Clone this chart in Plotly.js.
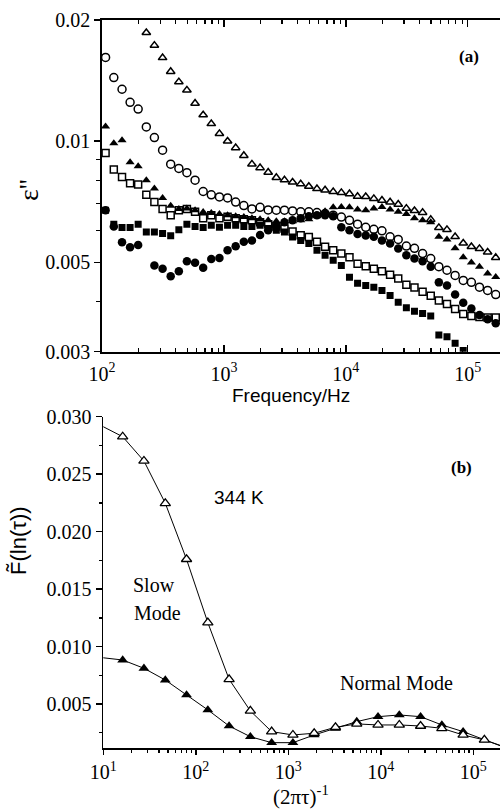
<!DOCTYPE html>
<html>
<head>
<meta charset="utf-8">
<script src="https://cdn.plot.ly/plotly-3.0.1.min.js"></script>
<style>
html,body{margin:0;padding:0;overflow:hidden;background:#fff;width:500px;height:809px;}
#chart{width:504px;height:809px;}
</style>
</head>
<body>
<div id="chart"></div>
<script>
// ---------- Panel (a): dielectric loss vs frequency ----------
const freqHz = [107, 125, 146, 170, 198, 231, 269, 314, 366, 427, 497, 580, 676, 788, 919,
  1072, 1249, 1457, 1698, 1980, 2308, 2692, 3139, 3659, 4266, 4974, 5799, 6761, 7884, 9192,
  10720, 12490, 14570, 16980, 19800, 23080, 26920, 31390, 36590, 42660, 49740, 57990, 67610,
  78840, 91920, 107200, 124900, 145700, 169800];

const epsOpenTri = [null, null, null, null, 0.0205, 0.0186, 0.0173, 0.01612, 0.01489, 0.01404,
  0.01339, 0.01242, 0.01162, 0.01105, 0.01044, 0.01000, 0.00963, 0.00921, 0.00877, 0.00859,
  0.00837, 0.00812, 0.00801, 0.00791, 0.00783, 0.00772, 0.00762, 0.00756, 0.00749, 0.00745,
  0.00740, 0.00729, 0.00728, 0.00720, 0.00713, 0.00706, 0.00697, 0.00681, 0.00672, 0.00665,
  0.00639, 0.00610, 0.00603, 0.00579, 0.00558, 0.00547, 0.00541, 0.00530, 0.00514];

const epsOpenCirc = [0.01615, 0.01439, 0.01346, 0.01249, 0.01202, 0.01085, 0.01021, 0.0095, 0.00877,
  0.00856, 0.00835, 0.00800, 0.00750, 0.00736, 0.00727, 0.00723, 0.00706, 0.00692, 0.00679,
  0.00685, 0.00675, 0.00674, 0.00674, 0.00671, 0.00668, 0.00668, 0.00665, 0.00661, 0.00655,
  0.00648, 0.00636, 0.00622, 0.00611, 0.00604, 0.00599, 0.00579, 0.00570, 0.00549, 0.00542,
  0.00526, 0.00511, 0.00488, 0.00478, 0.00464, 0.00451, 0.00446, 0.00434, 0.00426, 0.00416];

const epsFilledTri = [0.01088, 0.00988, 0.01006, 0.00887, 0.00867, 0.00800, 0.00763, 0.00723, 0.00691,
  0.00679, 0.00680, 0.00674, 0.00667, 0.00663, 0.00659, 0.00655, 0.00651, 0.00648, 0.00644,
  0.00640, 0.00636, 0.00633, 0.00633, 0.00633, 0.00636, 0.00640, 0.00651, 0.00670, 0.00685,
  0.00686, 0.00685, 0.00677, 0.00674, 0.00680, 0.00686, 0.00677, 0.00668, 0.00659, 0.00644,
  0.00636, 0.00629, 0.00579, 0.00570, 0.00542, 0.00515, 0.00500, 0.00488, 0.00469, 0.00460];

const epsOpenSq = [0.00935, 0.00851, 0.00815, 0.00786, 0.00781, 0.00736, 0.00706, 0.00679, 0.00655,
  0.00674, 0.00679, 0.00668, 0.00644, 0.00655, 0.00644, 0.00649, 0.00644, 0.00640, 0.00636,
  0.00629, 0.00622, 0.00614, 0.00607, 0.00597, 0.00584, 0.00578, 0.00563, 0.00547, 0.00536,
  0.00526, 0.00515, 0.00496, 0.00489, 0.00482, 0.00475, 0.00466, 0.00456, 0.00440, 0.00433,
  0.00423, 0.00413, 0.00402, 0.00394, 0.00383, 0.00372, 0.00368, 0.00366, 0.00365, 0.00365];

const epsFilledCirc = [0.00674, 0.00614, 0.00561, 0.00545, 0.00552, null, 0.00491, 0.00482, 0.00462,
  0.00475, 0.00503, 0.00499, 0.00485, 0.00510, 0.00513, 0.00536, 0.00548, 0.00563, 0.00567,
  0.00585, 0.00601, 0.00614, 0.00629, 0.00636, 0.00644, 0.00651, 0.00655, 0.00655, 0.00651,
  0.00611, 0.00601, 0.00588, 0.00583, 0.00579, 0.00567, 0.00557, 0.00541, 0.00521, 0.00511,
  0.00503, 0.00488, 0.00446, 0.00438, 0.00416, 0.00397, 0.00384, 0.00370, 0.00361, 0.00353];

const epsFilledSq = [0.00674, 0.00622, 0.00610, 0.00610, 0.00622, 0.00595, 0.00595, 0.00590, 0.00582,
  0.00603, 0.00622, 0.00614, 0.00610, 0.00618, 0.00611, 0.00618, 0.00618, 0.00614, 0.00614,
  0.00618, 0.00607, 0.00601, 0.00595, 0.00578, 0.00567, 0.00557, 0.00536, 0.00521, 0.00506,
  0.00491, 0.00459, 0.00444, 0.00438, 0.00434, 0.00426, 0.00414, 0.00398, 0.00386, 0.00378,
  0.00373, 0.00368, 0.00330, 0.00327, 0.00315, 0.00302, null, null, null, null];

// ---------- Panel (b): relaxation time distribution at 344 K ----------
const invTwoPiTau = [9.55, 16.2, 27.5, 46.8, 79.4, 134.9, 229.1, 389.0, 660.7, 1122, 1905, 3236,
  5495, 9333, 15850, 26920, 45710, 77620, 131800, 223900];
const distOpen = [0.02921, 0.02826, 0.02615, 0.02247, 0.01760, 0.01209, 0.00716, 0.00441, 0.00261,
  0.00232, 0.00247, 0.00299, 0.00328, 0.00319, 0.00319, 0.00310, 0.00290, 0.00232, 0.00189, 0.00125];
const distFilled = [0.00905, 0.00884, 0.00812, 0.00710, 0.00580, 0.00450, 0.00310, 0.00217, 0.00165,
  0.00165, 0.00232, 0.00290, 0.00348, 0.00391, 0.00406, 0.00391, 0.00319, 0.00261, 0.00189, 0.00120];

// ---------- Tick labels ----------
const topXTicks = [100, 1000, 10000, 100000];
const topXText = ['10<sup>2</sup>', '10<sup>3</sup>', '10<sup>4</sup>', '10<sup>5</sup>'];
const topYTicks = [0.003, 0.005, 0.01, 0.02];
const topYText = ['0.003', '0.005', '0.01', '0.02'];
const topYMinor = [0.004, 0.006, 0.007, 0.008, 0.009];
const botXTicks = [10, 100, 1000, 10000, 100000];
const botXText = ['10<sup>1</sup>', '10<sup>2</sup>', '10<sup>3</sup>', '10<sup>4</sup>', '10<sup>5</sup>'];
const botYTicks = [0.005, 0.010, 0.015, 0.020, 0.025, 0.030];
const botYText = ['0.005', '0.010', '0.015', '0.020', '0.025', '0.030'];
const botYMinor = [0.0025, 0.0075, 0.0125, 0.0175, 0.0225, 0.0275];
const decadeMinorMult = [2, 3, 4, 5, 6, 7, 8, 9];

// ---------- Build ----------
const W = 504, H = 809;
const px = x => x / W;
const py = y => 1 - y / H;

function logMinor(d0, d1) {
  const out = [];
  for (let d = d0; d <= d1; d++) decadeMinorMult.forEach(m => out.push(m * Math.pow(10, d)));
  return out;
}

const BLACK = '#000';
const serif = 'Liberation Serif, Times New Roman, serif';
const sans = 'Liberation Sans, Arial, sans-serif';

function topTrace(y, symbol, size, lw) {
  return {x: freqHz, y: y, xaxis: 'x', yaxis: 'y', type: 'scatter', mode: 'markers',
    marker: {symbol: symbol, size: size, color: BLACK, line: {color: BLACK, width: lw}},
    hoverinfo: 'skip', showlegend: false};
}

const traces = [
  topTrace(epsFilledSq, 'square', 7, 0),
  topTrace(epsFilledCirc, 'circle', 8.5, 0),
  topTrace(epsOpenSq, 'square-open', 7, 1.5),
  topTrace(epsFilledTri, 'triangle-up', 8, 0),
  topTrace(epsOpenCirc, 'circle-open', 8, 1.5),
  topTrace(epsOpenTri, 'triangle-up-open', 7.5, 1.5),
  {x: invTwoPiTau, y: distFilled, xaxis: 'x2', yaxis: 'y2', type: 'scatter', mode: 'lines',
   line: {color: BLACK, width: 1}, hoverinfo: 'skip', showlegend: false},
  {x: invTwoPiTau, y: distOpen, xaxis: 'x2', yaxis: 'y2', type: 'scatter', mode: 'lines',
   line: {color: BLACK, width: 1}, hoverinfo: 'skip', showlegend: false},
  {x: invTwoPiTau.slice(1, -1), y: distFilled.slice(1, -1), xaxis: 'x2', yaxis: 'y2', type: 'scatter', mode: 'markers',
   marker: {symbol: 'triangle-up', size: 9.5, color: BLACK, line: {width: 0}}, hoverinfo: 'skip', showlegend: false},
  {x: invTwoPiTau.slice(1, -1), y: distOpen.slice(1, -1), xaxis: 'x2', yaxis: 'y2', type: 'scatter', mode: 'markers',
   marker: {symbol: 'triangle-up', size: 9, color: '#fff', line: {color: BLACK, width: 1.3}}, hoverinfo: 'skip', showlegend: false}
];

const tickFont = {family: serif, size: 20, color: BLACK};
const axBase = {showgrid: false, zeroline: false, showline: true, linecolor: BLACK, linewidth: 1.8,
  tickcolor: BLACK, tickwidth: 1.5, tickfont: tickFont, fixedrange: true};

const topDomY = [py(351.7), py(20)];
const botDomY = [py(748.3), py(416.7)];
const topXRange = [2, 2 + (W - 102) / 121.9];
const botXRange = [1, 1 + (W - 103.3) / 92.5];
const topYRange = [Math.log10(0.003), Math.log10(0.02)];
const botYRange = [0.00116, 0.030];

function ann(text, x, y, size, family, extra) {
  return Object.assign({text: text, x: px(x), y: py(y), xref: 'paper', yref: 'paper', showarrow: false,
    xanchor: 'center', yanchor: 'middle', font: {family: family, size: size, color: BLACK}}, extra || {});
}

const layout = {
  width: W, height: H, margin: {l: 0, r: 0, t: 0, b: 0},
  paper_bgcolor: '#fff', plot_bgcolor: '#fff', showlegend: false,
  xaxis: Object.assign({}, axBase, {domain: [px(102), 1], anchor: 'y', type: 'log', range: topXRange,
    tickmode: 'array', tickvals: topXTicks, ticktext: topXText, ticks: 'inside', ticklen: 7, mirror: 'ticks',
    ticklabelstandoff: 3,
    minor: {tickmode: 'array', tickvals: logMinor(2, 5), ticks: 'inside', ticklen: 4, tickwidth: 1.2, tickcolor: BLACK}}),
  yaxis: Object.assign({}, axBase, {domain: topDomY, anchor: 'x', type: 'log', range: topYRange,
    tickmode: 'array', tickvals: topYTicks, ticktext: topYText, ticks: 'outside', ticklen: 6,
    minor: {tickmode: 'array', tickvals: topYMinor, ticks: 'outside', ticklen: 4, tickwidth: 1.2, tickcolor: BLACK}}),
  yaxis3: Object.assign({}, axBase, {overlaying: 'y', side: 'right', anchor: 'x', type: 'log', range: topYRange,
    tickmode: 'array', tickvals: topYTicks, showticklabels: false, ticks: 'inside', ticklen: 6,
    minor: {tickmode: 'array', tickvals: topYMinor, ticks: 'inside', ticklen: 4, tickwidth: 1.2, tickcolor: BLACK}}),
  xaxis2: Object.assign({}, axBase, {domain: [px(103.3), 1], anchor: 'y2', type: 'log', range: botXRange,
    tickmode: 'array', tickvals: botXTicks, ticktext: botXText, ticks: 'outside', ticklen: 5,
    minor: {tickmode: 'array', tickvals: logMinor(1, 5), ticks: 'outside', ticklen: 3, tickwidth: 1.2, tickcolor: BLACK}}),
  xaxis3: Object.assign({}, axBase, {overlaying: 'x2', side: 'top', anchor: 'y2', type: 'log', range: botXRange,
    tickmode: 'array', tickvals: botXTicks, showticklabels: false, ticks: 'inside', ticklen: 6,
    minor: {tickmode: 'array', tickvals: logMinor(1, 5), ticks: 'inside', ticklen: 4, tickwidth: 1.2, tickcolor: BLACK}}),
  yaxis2: Object.assign({}, axBase, {domain: botDomY, anchor: 'x2', range: botYRange,
    tickmode: 'array', tickvals: botYTicks, ticktext: botYText, ticks: 'outside', ticklen: 6,
    minor: {tickmode: 'array', tickvals: botYMinor, ticks: 'outside', ticklen: 3, tickwidth: 1.2, tickcolor: BLACK}}),
  yaxis4: Object.assign({}, axBase, {overlaying: 'y2', side: 'right', anchor: 'x2', range: botYRange,
    tickmode: 'array', tickvals: botYTicks, showticklabels: false, ticks: 'inside', ticklen: 6,
    minor: {tickmode: 'array', tickvals: botYMinor, ticks: 'inside', ticklen: 4, tickwidth: 1.2, tickcolor: BLACK}}),
  annotations: [
    ann("ε''", 28, 190, 28, serif, {textangle: -90}),
    ann('Frequency/Hz', 291, 396, 19, sans),
    ann('<b>(a)</b>', 469, 57, 17, serif),
    ann('<b>(b)</b>', 461, 467, 17, serif),
    ann('344 K', 212, 497, 19, sans, {xanchor: 'left'}),
    ann('Slow', 131, 585, 20, serif, {xanchor: 'left'}),
    ann('Mode', 132, 613, 20, serif, {xanchor: 'left'}),
    ann('Normal Mode', 396, 683, 20, serif),
    ann('F\u0303(ln(\u03c4))', 18, 541, 22, sans, {textangle: -90}),
    ann('(2\u03c0\u03c4)<sup>-1</sup>', 301, 795, 21, serif)
  ]
};

Plotly.newPlot('chart', traces, layout, {staticPlot: true, responsive: false, displayModeBar: false});
</script>
</body>
</html>
